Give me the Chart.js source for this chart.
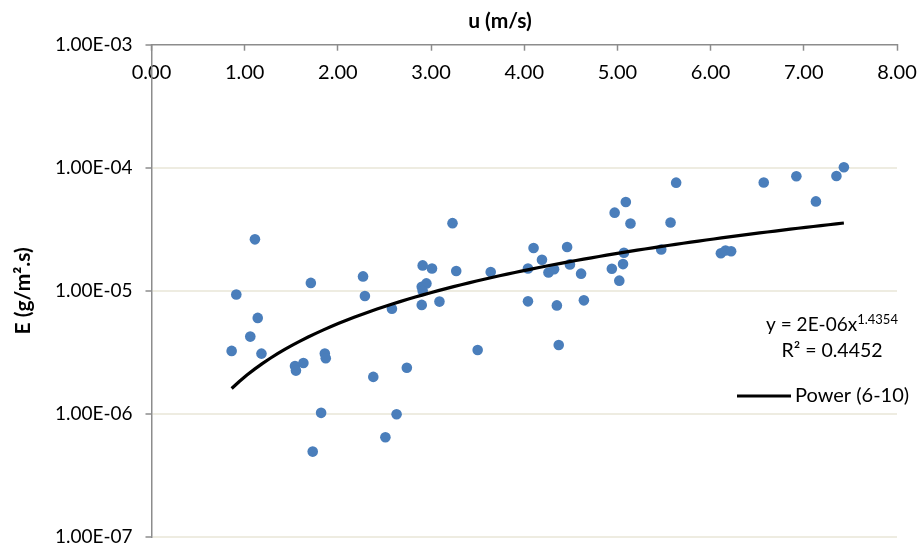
<!DOCTYPE html>
<html>
<head>
<meta charset="utf-8">
<title>E vs u</title>
<script src="https://cdn.jsdelivr.net/npm/chart.js@4/dist/chart.umd.min.js"></script>
<style>
  html, body { margin: 0; padding: 0; background: #ffffff; }
  #wrap { width: 919px; height: 552px; }
</style>
</head>
<body>
<div id="wrap"><canvas id="chart" width="919" height="552"></canvas></div>
<script>
// Wind speed u (m/s) and evaporation rate E (g/m².s), one entry per measurement
const windSpeed = [
  0.86, 0.91, 1.06, 1.11, 1.14, 1.18, 1.54, 1.55, 1.63, 1.71,
  1.73, 1.82, 1.86, 1.87, 2.27, 2.29, 2.38, 2.51, 2.58, 2.63,
  2.74, 2.90, 2.90, 2.95, 2.91, 2.91, 3.01, 3.09, 3.23, 3.27,
  3.50, 3.64, 4.04, 4.04, 4.10, 4.19, 4.26, 4.32, 4.35, 4.37,
  4.46, 4.49, 4.61, 4.64, 4.94, 4.97, 5.02, 5.06, 5.07, 5.09,
  5.14, 5.47, 5.57, 5.63, 6.11, 6.16, 6.22, 6.57, 6.92, 7.13,
  7.35, 7.43
];
const evaporation = [
  3.25e-6, 9.33e-6, 4.25e-6, 2.62e-5, 6.03e-6, 3.09e-6, 2.45e-6, 2.25e-6, 2.59e-6, 1.16e-5,
  4.94e-7, 1.02e-6, 3.10e-6, 2.83e-6, 1.31e-5, 9.07e-6, 2.00e-6, 6.47e-7, 7.15e-6, 9.93e-7,
  2.37e-6, 7.69e-6, 1.08e-5, 1.15e-5, 1.00e-5, 1.61e-5, 1.52e-5, 8.18e-6, 3.55e-5, 1.45e-5,
  3.31e-6, 1.42e-5, 1.52e-5, 8.22e-6, 2.23e-5, 1.79e-5, 1.41e-5, 1.50e-5, 7.62e-6, 3.63e-6,
  2.27e-5, 1.64e-5, 1.38e-5, 8.37e-6, 1.51e-5, 4.32e-5, 1.21e-5, 1.65e-5, 2.04e-5, 5.27e-5,
  3.53e-5, 2.17e-5, 3.59e-5, 7.57e-5, 2.02e-5, 2.13e-5, 2.10e-5, 7.59e-5, 8.53e-5, 5.33e-5,
  8.58e-5, 1.01e-4
];

// Axis ticks
const xTickValues = [0, 1, 2, 3, 4, 5, 6, 7, 8];
const xTickLabels = ['0.00', '1.00', '2.00', '3.00', '4.00', '5.00', '6.00', '7.00', '8.00'];
const yTickValues = [1e-7, 1e-6, 1e-5, 1e-4, 1e-3];
const yTickLabels = ['1.00E-07', '1.00E-06', '1.00E-05', '1.00E-04', '1.00E-03'];

// Power trendline y = a·x^b and its fit statistics
const trendName = 'Power (6-10)';
const trendCoef = 2e-6;
const trendCoefLabel = '2E-06';
const trendExp = 1.4354;
const trendR2 = 0.4452;

const xTitle = 'u (m/s)';
const yTitle = 'E (g/m².s)';

const pointColor = '#4A7EBB';
const axisGray = '#8C8C8C';
const gridTan = '#EEECE1';
const textColor = '#000000';
const fontFamily = 'Lato, "Liberation Sans", sans-serif';

// Curve sampled across the measured range of u
const uMin = Math.min(...windSpeed);
const uMax = Math.max(...windSpeed);
const trendPoints = [];
for (let i = 0; i <= 80; i++) {
  const u = uMin + (uMax - uMin) * i / 80;
  trendPoints.push({ x: u, y: trendCoef * Math.pow(u, trendExp) });
}

const measured = windSpeed.map((u, i) => ({ x: u, y: evaporation[i] }));

// Axis title, equation, R² and legend entry drawn over the plot
const trendNotes = {
  id: 'trendNotes',
  afterDraw(chart) {
    const { ctx, chartArea: a } = chart;
    ctx.save();
    ctx.fillStyle = textColor;

    // horizontal axis title
    ctx.font = 'bold 21px ' + fontFamily;
    ctx.textAlign = 'center';
    ctx.textBaseline = 'middle';
    ctx.fillText(xTitle, 500, 21);

    // equation with superscript exponent
    const cx = a.right - 65;
    const main = 'y = ' + trendCoefLabel + 'x';
    const sup = String(trendExp);
    ctx.font = '19px ' + fontFamily;
    const wMain = ctx.measureText(main).width;
    ctx.font = '13px ' + fontFamily;
    const wSup = ctx.measureText(sup).width;
    const x0 = cx - (wMain + wSup) / 2;
    ctx.textAlign = 'left';
    ctx.textBaseline = 'alphabetic';
    ctx.font = '19px ' + fontFamily;
    ctx.fillText(main, x0, 331);
    ctx.font = '13px ' + fontFamily;
    ctx.fillText(sup, x0 + wMain, 324);

    ctx.font = '19.5px ' + fontFamily;
    ctx.textAlign = 'center';
    ctx.fillText('R² = ' + trendR2.toFixed(4), cx, 356.5);

    // legend entry
    ctx.strokeStyle = '#000000';
    ctx.lineWidth = 3.2;
    ctx.beginPath();
    ctx.moveTo(737, 396);
    ctx.lineTo(791, 396);
    ctx.stroke();
    ctx.font = '20px ' + fontFamily;
    ctx.textAlign = 'left';
    ctx.textBaseline = 'middle';
    ctx.fillText(trendName, 795, 396);
    ctx.restore();
  }
};

new Chart(document.getElementById('chart'), {
  type: 'scatter',
  data: {
    datasets: [
      {
        type: 'line',
        label: trendName,
        data: trendPoints,
        borderColor: '#000000',
        borderWidth: 3.2,
        pointRadius: 0,
        tension: 0,
        fill: false,
        order: 0
      },
      {
        label: 'E',
        data: measured,
        backgroundColor: pointColor,
        borderColor: pointColor,
        borderWidth: 0,
        pointRadius: 5.3,
        order: 1
      }
    ]
  },
  options: {
    responsive: false,
    animation: false,
    devicePixelRatio: 1,
    layout: { padding: { left: 0, top: 0, right: 22, bottom: 15 } },
    plugins: {
      legend: { display: false },
      tooltip: { enabled: false }
    },
    scales: {
      x: {
        type: 'linear',
        position: 'top',
        min: 0,
        max: 8,
        afterBuildTicks: s => { s.ticks = xTickValues.map(v => ({ value: v })); },
        afterFit: s => {
          s.height = 44.7;
          s.paddingLeft = 0;
          s.paddingRight = 0;
        },
        ticks: {
          autoSkip: false,
          maxRotation: 0,
          mirror: true,
          padding: 16,
          color: textColor,
          font: { family: fontFamily, size: 20 },
          callback: (v, i) => xTickLabels[i]
        },
        grid: {
          drawOnChartArea: false,
          tickLength: -6,
          tickColor: axisGray,
          tickWidth: 1.5
        },
        border: { color: axisGray, width: 1.5 }
      },
      y: {
        type: 'logarithmic',
        min: 1e-7,
        max: 1e-3,
        afterBuildTicks: s => { s.ticks = yTickValues.map(v => ({ value: v })); },
        afterFit: s => {
          s.width = 151.5;
          s.paddingTop = 0;
          s.paddingBottom = 0;
        },
        ticks: {
          autoSkip: false,
          padding: 13,
          color: textColor,
          font: { family: fontFamily, size: 19 },
          callback: (v, i) => yTickLabels[i]
        },
        grid: {
          color: c => (c.tick && c.tick.value === 1e-3) ? 'rgba(0,0,0,0)' : gridTan,
          lineWidth: 2,
          tickLength: 6,
          tickColor: axisGray,
          tickWidth: 1.5
        },
        border: { color: axisGray, width: 1.5 },
        title: {
          display: true,
          text: yTitle,
          color: textColor,
          font: { family: fontFamily, size: 21, weight: 'bold' },
          padding: { top: 11, bottom: 0 }
        }
      }
    }
  },
  plugins: [trendNotes]
});
</script>
</body>
</html>
